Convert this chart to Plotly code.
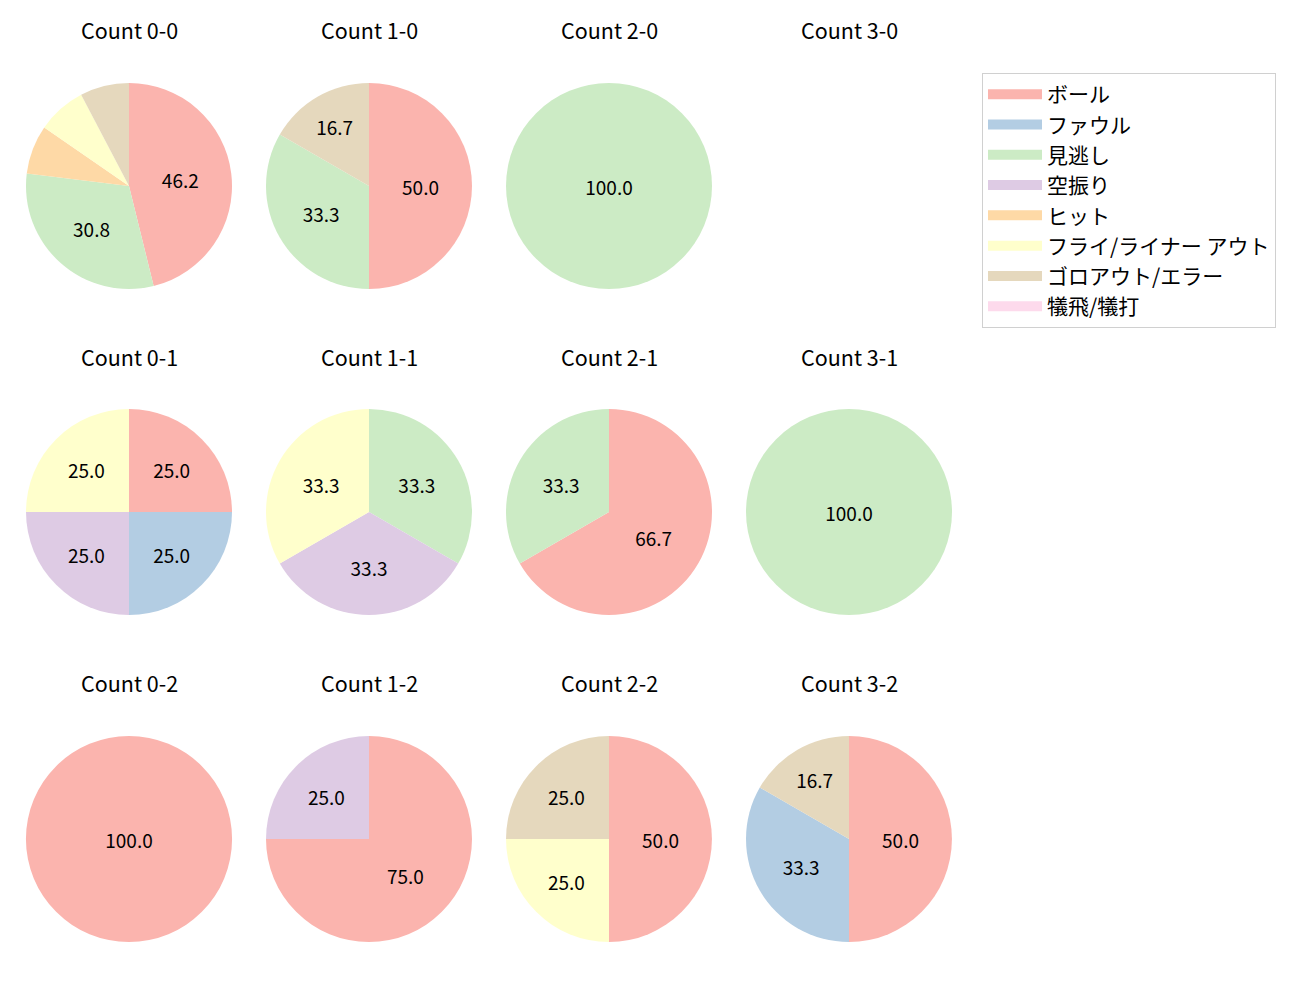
import plotly.graph_objects as go

labels = ['ボール', 'ファウル', '見逃し', '空振り', 'ヒット',
          'フライ/ライナー アウト', 'ゴロアウト/エラー', '犠飛/犠打']
colors = ['#fbb4ae', '#b3cde3', '#ccebc5', '#decbe4', '#fed9a6',
          '#ffffcc', '#e5d8bd', '#fddaec']

# 件数 (ラベル順)
counts = {
    '0-0': [6, 0, 4, 0, 1, 1, 1, 0],
    '1-0': [3, 0, 2, 0, 0, 0, 1, 0],
    '2-0': [0, 0, 1, 0, 0, 0, 0, 0],
    '3-0': [0, 0, 0, 0, 0, 0, 0, 0],
    '0-1': [1, 1, 0, 1, 0, 1, 0, 0],
    '1-1': [0, 0, 1, 1, 0, 1, 0, 0],
    '2-1': [2, 0, 1, 0, 0, 0, 0, 0],
    '3-1': [0, 0, 1, 0, 0, 0, 0, 0],
    '0-2': [1, 0, 0, 0, 0, 0, 0, 0],
    '1-2': [3, 0, 0, 1, 0, 0, 0, 0],
    '2-2': [2, 0, 0, 0, 0, 1, 1, 0],
    '3-2': [3, 2, 0, 0, 0, 0, 1, 0],
}

W, H = 1300, 1000
col_cx = [129, 369, 609, 849]
row_cy = [186, 512, 839]
title_y = [29, 356, 682]
R = 103
FONT = 'Noto Sans CJK JP'

fig = go.Figure()

for key, vals in counts.items():
    b, s = key.split('-')
    cx = col_cx[int(b)]
    cy = row_cy[int(s)]
    tot = sum(vals)
    fig.add_annotation(text=f'Count {key}', x=cx / W, y=1 - title_y[int(s)] / H,
                       xref='paper', yref='paper', showarrow=False,
                       xanchor='center', yanchor='middle',
                       font=dict(size=21.5, color='black'))
    if tot == 0:
        continue
    txt = [f'{100 * v / tot:.1f}' if 100 * v / tot >= 10 else '' for v in vals]
    fig.add_trace(go.Pie(
        labels=labels, values=vals, text=txt, textinfo='text',
        sort=False, direction='clockwise', rotation=0,
        marker=dict(colors=colors, line=dict(width=0)),
        textposition='inside', insidetextorientation='horizontal',
        textfont=dict(size=19, color='black'),
        domain=dict(x=[(cx - R) / W, (cx + R) / W],
                    y=[1 - (cy + R) / H, 1 - (cy - R) / H]),
        showlegend=False, hoverinfo='label+percent',
    ))

# 凡例用のダミー
for lab, c in zip(labels, colors):
    fig.add_trace(go.Scatter(x=[None], y=[None], mode='lines', name=lab,
                             line=dict(color=c, width=15)))

fig.update_layout(
    width=W, height=H,
    margin=dict(l=0, r=0, t=0, b=0),
    paper_bgcolor='white', plot_bgcolor='white',
    font=dict(family=FONT, color='black'),
    xaxis=dict(visible=False), yaxis=dict(visible=False),
    legend=dict(x=982 / W, y=1 - 73 / H, xanchor='left', yanchor='top',
                bordercolor='#d0d0d0', borderwidth=1,
                font=dict(size=21, color='black'), itemwidth=54),
)

fig.write_html('out.html', config={'displayModeBar': False},
               post_script="document.body.style.margin='0';")
